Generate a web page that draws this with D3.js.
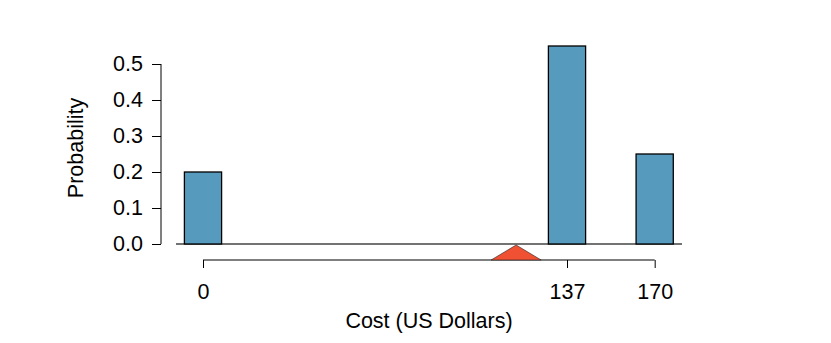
<!DOCTYPE html>
<html>
<head>
<meta charset="utf-8">
<script src="https://cdn.jsdelivr.net/npm/d3@7"></script>
<style>
  body { margin: 0; background: #fff; }
  text { font-family: "Liberation Sans", Arial, sans-serif; }
</style>
</head>
<body>
<div id="chart"></div>
<script>
// costs and their probabilities
const costs = [0, 137, 170];
const probs = [0.20, 0.55, 0.25];
const yTicks = [0.0, 0.1, 0.2, 0.3, 0.4, 0.5];
const xTicks = [0, 137, 170];

const width = 831, height = 343;
const barHalf = 7; // bar half-width in dollars
const fs = 21.5;

const svg = d3.select('#chart').append('svg')
    .attr('width', width).attr('height', height);

// x scale: 0 -> 203px, 137 -> 567px
const x = d3.scaleLinear().domain([0, 137]).range([203, 567]);
const y = d3.scaleLinear().domain([0, 0.5]).range([244, 64]);

// Y axis
const yAxis = svg.append('g')
    .attr('transform', 'translate(161,0)')
    .call(d3.axisLeft(y).tickValues(yTicks).tickFormat(d3.format('.1f')).tickSize(9).tickPadding(9));
yAxis.select('.domain').attr('stroke', '#000').attr('d', `M-0,${y(0)}V${y(0.5)}`);
yAxis.selectAll('.tick line').attr('stroke', '#000');
yAxis.selectAll('.tick text').attr('font-size', fs).attr('fill', '#000')
    .attr('font-family', '"Liberation Sans", Arial, sans-serif');

// baseline
svg.append('line')
    .attr('x1', 176).attr('x2', 682)
    .attr('y1', y(0)).attr('y2', y(0))
    .attr('stroke', '#444').attr('stroke-width', 1.3);

// bars
svg.selectAll('rect.bar')
    .data(costs.map((c, i) => ({c: c, p: probs[i]})))
    .enter().append('rect')
    .attr('class', 'bar')
    .attr('x', d => x(d.c - barHalf))
    .attr('width', d => x(d.c + barHalf) - x(d.c - barHalf))
    .attr('y', d => y(d.p))
    .attr('height', d => y(0) - y(d.p))
    .attr('fill', '#569BBD')
    .attr('stroke', '#000').attr('stroke-width', 1.3);

// X axis
const xAxis = svg.append('g')
    .attr('transform', 'translate(0,260)')
    .call(d3.axisBottom(x).tickValues(xTicks).tickFormat(d3.format('d')).tickSize(8).tickPadding(16));
xAxis.select('.domain').attr('stroke', '#000').attr('d', `M${x(0)},0H${x(170)}`);
xAxis.selectAll('.tick line').attr('stroke', '#000');
xAxis.selectAll('.tick text').attr('font-size', fs).attr('fill', '#000')
    .attr('font-family', '"Liberation Sans", Arial, sans-serif');

// expected value triangle
const mean = d3.sum(costs.map((c, i) => c * probs[i]));
const mx = x(mean);
svg.append('path')
    .attr('d', `M${mx - 25},260L${mx},245L${mx + 25},260Z`)
    .attr('fill', '#F05133')
    .attr('stroke', '#222').attr('stroke-width', 0.6);

// axis titles
svg.append('text')
    .attr('x', 429).attr('y', 328)
    .attr('text-anchor', 'middle')
    .attr('font-size', fs)
    .text('Cost (US Dollars)');

svg.append('text')
    .attr('transform', 'translate(83,148) rotate(-90)')
    .attr('text-anchor', 'middle')
    .attr('font-size', fs)
    .text('Probability');
</script>
</body>
</html>
